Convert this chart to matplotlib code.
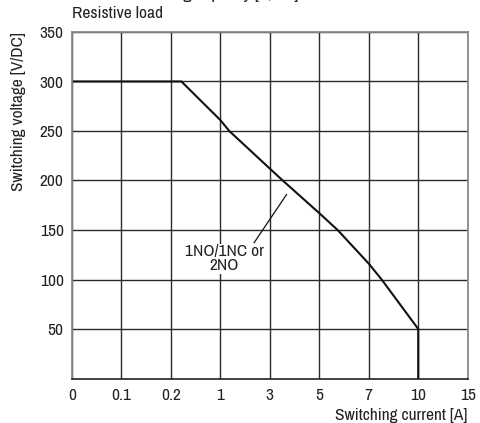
import numpy as np
import matplotlib
matplotlib.use("Agg")
import matplotlib.pyplot as plt
from matplotlib import font_manager

fams = {f.name for f in font_manager.fontManager.ttflist}
font = next((f for f in ["Archivo Narrow", "Barlow Semi Condensed", "Asap Condensed"] if f in fams), "DejaVu Sans")
plt.rcParams["font.family"] = [font, "DejaVu Sans"]

# Axis tick values (non-linear, evenly spaced on chart)
x_ticks = [0, 0.1, 0.2, 1, 3, 5, 7, 10, 15]
x_tick_labels = ["0", "0.1", "0.2", "1", "3", "5", "7", "10", "15"]
y_ticks = [50, 100, 150, 200, 250, 300, 350]

# Load limit curve: current [A] vs voltage [V/DC]
current = [0, 0.37, 1, 1.36, 3, 3.52, 5, 5.74, 7, 7.78, 10, 10]
voltage = [300, 300, 261, 250, 212, 200, 167, 150, 116, 100, 50, 0]

positions = np.arange(len(x_ticks), dtype=float)
def fwd(x):
    return np.interp(x, x_ticks, positions)
def inv(p):
    return np.interp(p, positions, x_ticks)

fs = 12.5
fig = plt.figure(figsize=(4.8, 4.23), dpi=100)
ax = fig.add_axes([72/480, 1 - 378.5/423, (467.7-72)/480, (378.5-32)/423])
ax.set_xscale("function", functions=(fwd, inv))
ax.set_xlim(0, 15)
ax.set_ylim(0, 350)

ax.set_xticks(x_ticks)
ax.set_xticklabels(x_tick_labels)
ax.set_yticks(y_ticks)
ax.tick_params(length=0, labelsize=fs, colors="#222222")
ax.tick_params(axis="x", pad=7)
ax.tick_params(axis="y", pad=6)
ax.minorticks_off()

ax.grid(True, color="#2a2a2a", lw=1.0)
ax.set_axisbelow(True)
for s in ["left", "right", "top"]:
    ax.spines[s].set_color("#8a8a8a")
    ax.spines[s].set_linewidth(1.3)
ax.spines["bottom"].set_color("#222222")
ax.spines["bottom"].set_linewidth(1.2)

ax.plot(current, voltage, color="#111111", lw=1.5, solid_joinstyle="miter")

# annotation
ax.annotate("", xy=(3.68, 186), xytext=(2.36, 137),
            arrowprops=dict(arrowstyle="-", color="#111111", lw=0.9, shrinkA=0, shrinkB=0))
ax.text(1.16, 121, "1NO/1NC or\n2NO", ha="center", va="center", fontsize=fs,
        color="#222222", linespacing=0.9,
        bbox=dict(facecolor="white", edgecolor="none", pad=0.5))

ax.set_xlabel("Switching current [A]", fontsize=fs, color="#222222")
ax.xaxis.set_label_coords(1.0, -0.085)
ax.xaxis.label.set_ha("right")
ax.set_ylabel("Switching voltage [V/DC]", fontsize=fs, color="#222222")
ax.yaxis.set_label_coords(-0.135, 1.0)
ax.yaxis.label.set_va("center")
ax.yaxis.label.set_ha("right")

fig.text(72/480, 1 - 14/423, "Resistive load", ha="left", va="center",
         fontsize=fs, color="#222222")
fig.text(215/480, 1 + 1/423, "Breaking capacity [V/DC]", ha="center", va="baseline",
         fontsize=13, fontweight="bold", color="#222222")

fig.savefig("out.png", dpi=100)
